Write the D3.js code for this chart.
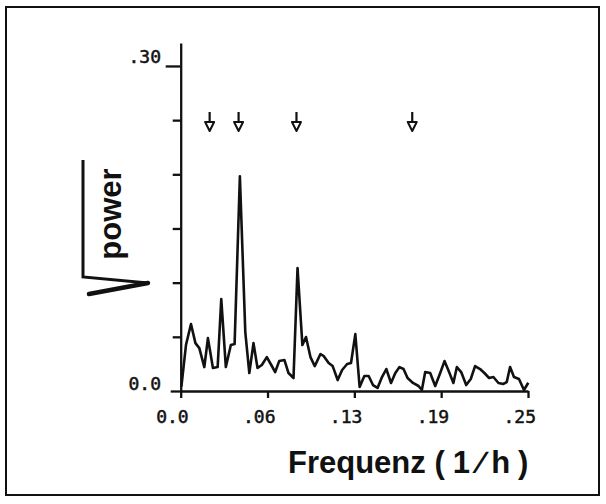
<!DOCTYPE html>
<html>
<head>
<meta charset="utf-8">
<script src="https://cdn.jsdelivr.net/npm/d3@7"></script>
<style>
  body { margin: 0; background: #fff; }
  .tick-label { font-family: "DejaVu Sans Mono", monospace; font-size: 18px; fill: #111; stroke: #111; stroke-width: 0.5px; }
  .title { font-family: "Liberation Sans", Arial, sans-serif; font-weight: bold; fill: #111; }
</style>
</head>
<body>
<svg id="chart" width="606" height="504"></svg>
<script>
// frequency (1/h) and sqrt(power)
const freq = [0.0005, 0.0038, 0.0074, 0.0106, 0.0134, 0.0170, 0.0196, 0.0232, 0.0266, 0.0292,
  0.0325, 0.0361, 0.0388, 0.0426, 0.0465, 0.0494, 0.0524, 0.0553, 0.0584, 0.0620,
  0.0652, 0.0680, 0.0709, 0.0747, 0.0776, 0.0812, 0.0841, 0.0876, 0.0902, 0.0934,
  0.0965, 0.1006, 0.1029, 0.1065, 0.1094, 0.1130, 0.1162, 0.1198, 0.1226, 0.1257,
  0.1288, 0.1322, 0.1353, 0.1384, 0.1417, 0.1449, 0.1480, 0.1514, 0.1545, 0.1575,
  0.1604, 0.1633, 0.1672, 0.1712, 0.1736, 0.1760, 0.1796, 0.1832, 0.1868, 0.1899,
  0.1932, 0.1963, 0.1988, 0.2019, 0.2055, 0.2088, 0.2119, 0.2155, 0.2186, 0.2220,
  0.2251, 0.2287, 0.2323, 0.2347, 0.2371, 0.2399, 0.2435, 0.2471, 0.2502];
const amp = [0.004, 0.0424, 0.0618, 0.0442, 0.0396, 0.0221, 0.0488, 0.0212, 0.0221, 0.0848,
  0.0221, 0.0424, 0.0433, 0.1982, 0.0544, 0.0166, 0.0442, 0.0212, 0.0240, 0.0313,
  0.0240, 0.0175, 0.0276, 0.0286, 0.0166, 0.0120, 0.1134, 0.0424, 0.0498, 0.0313,
  0.0230, 0.0341, 0.0323, 0.0258, 0.0230, 0.0101, 0.0194, 0.0249, 0.0258, 0.0525,
  0.0037, 0.0138, 0.0138, 0.0055, 0.0028, 0.0129, 0.0203, 0.0074, 0.0166, 0.0221,
  0.0203, 0.0120, 0.0074, 0.0046, 0.0009, 0.0175, 0.0166, 0.0046, 0.0166, 0.0276,
  0.0175, 0.0074, 0.0221, 0.0175, 0.0055, 0.0111, 0.0230, 0.0203, 0.0166, 0.0120,
  0.0129, 0.0074, 0.0065, 0.0083, 0.0221, 0.0129, 0.0111, 0.0009, 0.0076];

// arrows mark these periods (h)
const periods = [48, 24, 12, 6];

const xTicks = [0, 0.0625, 0.125, 0.1875, 0.25];
const xTickLabels = ["0.0", ".06", ".13", ".19", ".25"];
const yTicks = [0, 0.05, 0.10, 0.15, 0.20, 0.25, 0.30];
const yLabelTicks = [0, 0.30];
const yTickLabels = ["0.0", ".30"];

const svg = d3.select("#chart");

// frame
svg.append("rect")
  .attr("x", 6).attr("y", 7).attr("width", 593).attr("height", 488)
  .attr("fill", "none").attr("stroke", "#111").attr("stroke-width", 2);

const x = d3.scaleLinear().domain([0, 0.25]).range([180.7, 528]);
const y = d3.scaleLinear().domain([0, 0.3212]).range([391, 43]);

// y axis
const yAxis = svg.append("g")
  .attr("transform", `translate(${x(0)},0)`)
  .call(d3.axisLeft(y).tickValues(yTicks).tickSize(8).tickSizeOuter(0).tickFormat(""));
yAxis.selectAll(".tick line")
  .attr("x2", d => d === 0.30 ? -15 : (d === 0 ? -10 : -8));
yAxis.selectAll("path, line").attr("stroke", "#111").attr("stroke-width", 2.3);

// x axis
const xAxis = svg.append("g")
  .attr("transform", `translate(0,${y(0)})`)
  .call(d3.axisBottom(x).tickValues(xTicks).tickSize(7).tickSizeOuter(0).tickFormat(""));
xAxis.selectAll("path, line").attr("stroke", "#111").attr("stroke-width", 2.3);

// tick labels
svg.selectAll(".xl")
  .data(xTicks)
  .enter().append("text")
  .attr("class", "tick-label")
  .attr("x", d => x(d) + 8)
  .attr("y", y(0) + 32)
  .attr("text-anchor", "end")
  .text((d, i) => xTickLabels[i]);

svg.selectAll(".yl")
  .data(yLabelTicks)
  .enter().append("text")
  .attr("class", "tick-label")
  .attr("x", 161)
  .attr("y", d => d === 0 ? y(d) - 1 : y(d) - 3)
  .attr("text-anchor", "end")
  .text((d, i) => yTickLabels[i]);

// spectrum line
const line = d3.line()
  .x((d, i) => x(freq[i]))
  .y(d => y(d));

svg.append("path")
  .datum(amp)
  .attr("d", line)
  .attr("fill", "none")
  .attr("stroke", "#111")
  .attr("stroke-width", 2.6)
  .attr("stroke-linejoin", "round");

// period arrows
const arrows = svg.selectAll(".arrow")
  .data(periods)
  .enter().append("g")
  .attr("transform", d => `translate(${x(1 / d)},112)`);

arrows.append("line")
  .attr("x1", 0).attr("x2", 0).attr("y1", 0).attr("y2", 10)
  .attr("stroke", "#111").attr("stroke-width", 2.2);

arrows.append("path")
  .attr("d", "M-4.5,10 L4.5,10 L0,19 Z")
  .attr("fill", "#fff").attr("stroke", "#111").attr("stroke-width", 2)
  .attr("stroke-linejoin", "round");

// axis titles
const xTitle = svg.append("text")
  .attr("class", "title")
  .attr("x", 288)
  .attr("y", 473)
  .attr("font-size", 31);
xTitle.append("tspan").text("Frequenz ");
xTitle.append("tspan").attr("letter-spacing", 8).text("(1\u2215h)");

svg.append("text")
  .attr("class", "title")
  .attr("transform", "translate(121,214) rotate(-90)")
  .attr("text-anchor", "middle")
  .attr("font-size", 31)
  .text("power");

// radical sign round "power"
svg.append("path")
  .attr("d", "M83,160 L83,277 L148,283")
  .attr("fill", "none").attr("stroke", "#111").attr("stroke-width", 3)
  .attr("stroke-linejoin", "miter");
svg.append("path")
  .attr("d", "M89,294 L148,283")
  .attr("fill", "none").attr("stroke", "#111").attr("stroke-width", 4.5)
  .attr("stroke-linecap", "round");
</script>
</body>
</html>
